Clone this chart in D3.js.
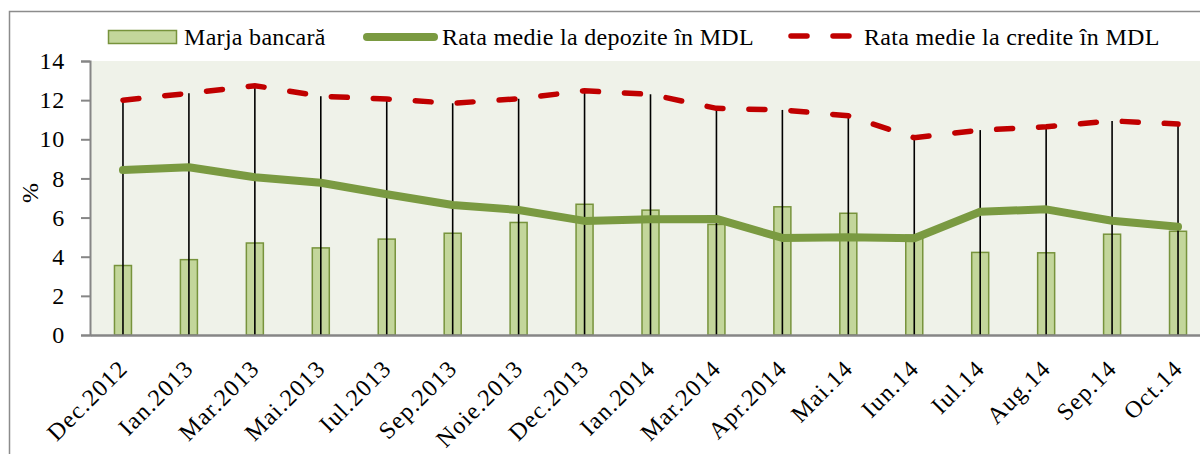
<!DOCTYPE html>
<html>
<head>
<meta charset="utf-8">
<script src="https://cdn.jsdelivr.net/npm/d3@7"></script>
<style>
  html, body { margin: 0; padding: 0; background: #ffffff; }
  svg { display: block; }
  text { font-family: "Liberation Serif", "DejaVu Serif", serif; fill: #000; }
</style>
</head>
<body>
<svg id="chart" width="1200" height="454"></svg>
<script>
// Monthly observations
const categories = ["Dec.2012", "Ian.2013", "Mar.2013", "Mai.2013", "Iul.2013", "Sep.2013",
  "Noie.2013", "Dec.2013", "Ian.2014", "Mar.2014", "Apr.2014", "Mai.14", "Iun.14",
  "Iul.14", "Aug.14", "Sep.14", "Oct.14"];

// Bank margin (%)
const marja = [3.55, 3.85, 4.7, 4.45, 4.9, 5.2, 5.75, 6.68, 6.38, 5.65, 6.55, 6.22, 5.1,
  4.22, 4.2, 5.15, 5.3];

// Average deposit rate in MDL (%)
const depozite = [8.43, 8.57, 8.06, 7.78, 7.19, 6.64, 6.39, 5.83, 5.91, 5.93, 4.96, 4.99,
  4.94, 6.3, 6.42, 5.84, 5.53];

// Average loan rate in MDL (%)
const credite = [12.0, 12.35, 12.74, 12.2, 12.06, 11.84, 12.07, 12.48, 12.3, 11.58, 11.5,
  11.2, 10.08, 10.47, 10.64, 10.94, 10.78];

const yTicks = [0, 2, 4, 6, 8, 10, 12, 14];

const legendLabels = ["Marja bancară", "Rata medie la depozite în MDL", "Rata medie la credite în MDL"];

const svg = d3.select("#chart");

const plot = { left: 90, top: 61, right: 1211, bottom: 335 };

const x = d3.scaleBand()
  .domain(categories)
  .range([plot.left, plot.right])
  .paddingInner(0).paddingOuter(0);

const y = d3.scaleLinear().domain([0, 14]).range([plot.bottom, plot.top]);

const cx = d => x(d) + x.bandwidth() / 2;

// Outer chart frame
svg.append("rect")
  .attr("x", 9.5).attr("y", 11.5)
  .attr("width", 1200).attr("height", 460)
  .attr("fill", "none").attr("stroke", "#8c8c8c").attr("stroke-width", 1.5);

// Plot area background
svg.append("rect")
  .attr("x", plot.left).attr("y", plot.top)
  .attr("width", plot.right - plot.left).attr("height", plot.bottom - plot.top)
  .attr("fill", "#eff2e9");

// Bars: bank margin
const barW = 17;
svg.append("g").selectAll("rect")
  .data(marja)
  .join("rect")
  .attr("x", (d, i) => cx(categories[i]) - barW / 2)
  .attr("y", d => y(d))
  .attr("width", barW)
  .attr("height", d => y(0) - y(d))
  .attr("fill", "#c3d69b")
  .attr("stroke", "#77933c")
  .attr("stroke-width", 1.5);

// Drop lines from loan-rate points to the axis
svg.append("g").selectAll("line")
  .data(credite)
  .join("line")
  .attr("x1", (d, i) => cx(categories[i]))
  .attr("x2", (d, i) => cx(categories[i]))
  .attr("y1", d => y(d))
  .attr("y2", y(0))
  .attr("stroke", "#000")
  .attr("stroke-width", 1.6);

// Deposit rate line
const line = d3.line()
  .x((d, i) => cx(categories[i]))
  .y(d => y(d));

svg.append("path")
  .datum(depozite)
  .attr("d", line)
  .attr("fill", "none")
  .attr("stroke", "#7a9a41")
  .attr("stroke-width", 8)
  .attr("stroke-linejoin", "round")
  .attr("stroke-linecap", "round");

// Loan rate line (dashed)
svg.append("path")
  .datum(credite)
  .attr("d", line)
  .attr("fill", "none")
  .attr("stroke", "#c00000")
  .attr("stroke-width", 5.5)
  .attr("stroke-dasharray", "16,26")
  .attr("stroke-linecap", "round");

// Axes
const yAxis = d3.axisLeft(y).tickValues(yTicks).tickSize(9).tickPadding(16).tickFormat(d3.format("d"));
const gy = svg.append("g").attr("transform", `translate(${plot.left},0)`).call(yAxis);
gy.select(".domain").attr("stroke", "#868686").attr("stroke-width", 2);
gy.selectAll(".tick line").attr("stroke", "#868686").attr("stroke-width", 2);
gy.selectAll(".tick text").attr("font-size", 24).attr("fill", "#000")
  .attr("font-family", '"Liberation Serif", serif')
  .attr("letter-spacing", 0.8);

const xAxis = d3.axisBottom(x).tickSize(0).tickFormat(d => d);
const gx = svg.append("g").attr("transform", `translate(0,${plot.bottom})`).call(xAxis);
gx.select(".domain").attr("stroke", "#868686").attr("stroke-width", 2.5);
gx.selectAll(".tick text")
  .attr("font-size", 24)
  .attr("font-family", '"Liberation Serif", serif')
  .attr("letter-spacing", 1.2)
  .attr("fill", "#000")
  .attr("text-anchor", "end")
  .attr("dy", null)
  .attr("y", 0)
  .attr("transform", "translate(6,35) rotate(-45)");

// Y axis title
svg.append("text")
  .attr("transform", "translate(38,193) rotate(-90)")
  .attr("text-anchor", "middle")
  .attr("font-size", 24)
  .text("%");

// Legend
const lg = svg.append("g");
lg.append("rect")
  .attr("x", 108.5).attr("y", 30.5).attr("width", 68).attr("height", 13)
  .attr("fill", "#c3d69b").attr("stroke", "#77933c").attr("stroke-width", 1.5);
lg.append("text").attr("x", 184).attr("y", 45).attr("font-size", 24)
  .attr("letter-spacing", 0.3).text(legendLabels[0]);

lg.append("line")
  .attr("x1", 367).attr("x2", 434).attr("y1", 37).attr("y2", 37)
  .attr("stroke", "#7a9a41").attr("stroke-width", 8).attr("stroke-linecap", "round");
lg.append("text").attr("x", 442).attr("y", 45).attr("font-size", 24)
  .attr("letter-spacing", 0.3).text(legendLabels[1]);

lg.append("line")
  .attr("x1", 789).attr("x2", 852).attr("y1", 36).attr("y2", 36)
  .attr("stroke", "#c00000").attr("stroke-width", 5.5)
  .attr("stroke-dasharray", "16,26").attr("stroke-dashoffset", -2)
  .attr("stroke-linecap", "round");
lg.append("text").attr("x", 864).attr("y", 45).attr("font-size", 24)
  .attr("letter-spacing", 0.3).text(legendLabels[2]);
</script>
</body>
</html>
